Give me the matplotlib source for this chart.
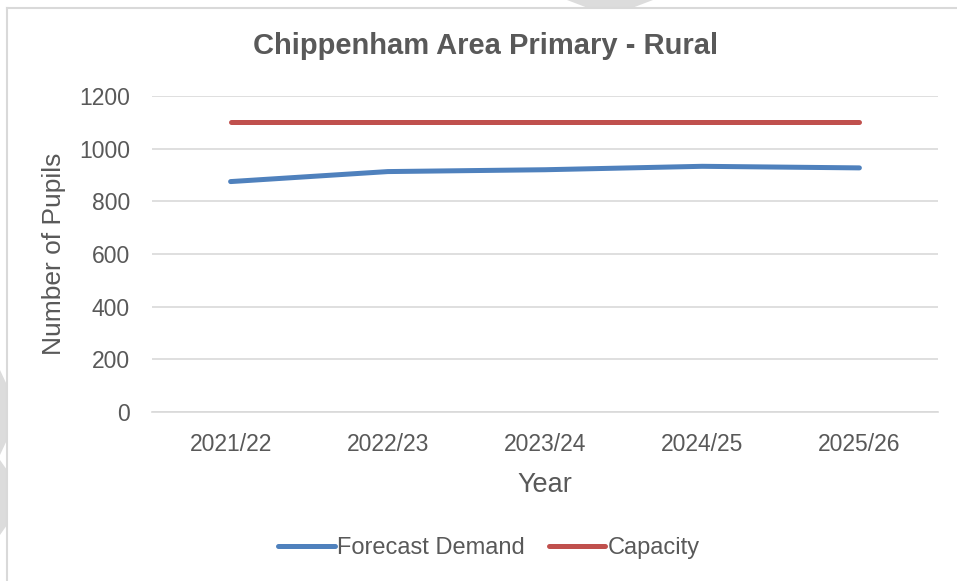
import matplotlib.pyplot as plt

plt.rcParams['font.family'] = ['Liberation Sans', 'DejaVu Sans']

years = ['2021/22', '2022/23', '2023/24', '2024/25', '2025/26']
forecast_demand = [875, 913, 920, 933, 927]
capacity = [1100, 1100, 1100, 1100, 1100]
y_ticks = [0, 200, 400, 600, 800, 1000, 1200]

TEXT_COLOR = '#595959'
GRID_COLOR = '#d9d9d9'
BLUE = '#4f81bd'
RED = '#c0504d'
W, H = 957, 581

fig = plt.figure(figsize=(W / 100, H / 100), dpi=100)

# background layer in pixel coordinates for the frame and grey page shapes
bg = fig.add_axes([0, 0, 1, 1], zorder=0)
bg.set_xlim(0, W)
bg.set_ylim(H, 0)
bg.axis('off')
bg.fill([567, 653, 632, 588], [0, 0, 8, 8], color='#dcdcdc', lw=0)
bg.fill([0, 7, 7, 0], [370, 385, 440, 455], color='#dcdcdc', lw=0)
bg.fill([0, 7, 7, 0], [460, 470, 525, 535], color='#dcdcdc', lw=0)
bg.plot([7, 7], [8, H], color=GRID_COLOR, lw=1.5)
bg.plot([7, W], [8, 8], color=GRID_COLOR, lw=1.5)

ax = fig.add_axes([152 / W, 1 - 412 / H, (938 - 152) / W, (412 - 96) / H], zorder=1)
ax.patch.set_alpha(0)
x = list(range(len(years)))

ax.plot(x, forecast_demand, color=BLUE, lw=3.6, solid_capstyle='round',
        solid_joinstyle='round', label='Forecast Demand', zorder=3)
ax.plot(x, capacity, color=RED, lw=3.6, solid_capstyle='round',
        label='Capacity', zorder=3)

ax.set_xlim(-0.5, len(years) - 0.5)
ax.set_ylim(0, 1200)
ax.set_yticks(y_ticks)
ax.set_xticks(x)
ax.set_xticklabels(years)
ax.tick_params(axis='both', length=0, labelsize=16.5, labelcolor=TEXT_COLOR)
ax.tick_params(axis='y', pad=16)
ax.tick_params(axis='x', pad=15)
ax.grid(axis='y', color=GRID_COLOR, lw=1.2)
ax.set_axisbelow(True)
for s in ['top', 'right', 'left']:
    ax.spines[s].set_visible(False)
ax.spines['bottom'].set_color(GRID_COLOR)
ax.spines['bottom'].set_linewidth(1.2)

ax.set_xlabel('Year', fontsize=19.5, color=TEXT_COLOR, labelpad=12)
ax.set_ylabel('Number of Pupils', fontsize=19, color=TEXT_COLOR, labelpad=9)

fig.text(486 / W, 1 - 46 / H, 'Chippenham Area Primary - Rural', ha='center', va='center',
         fontsize=21, fontweight='bold', color=TEXT_COLOR)

fig.legend(loc='center', bbox_to_anchor=(489 / W, 1 - 548 / H), ncol=2, frameon=False,
           fontsize=17, labelcolor=TEXT_COLOR, handlelength=2.4, handletextpad=0.1,
           columnspacing=1.0)

fig.savefig('out.png', dpi=100)
